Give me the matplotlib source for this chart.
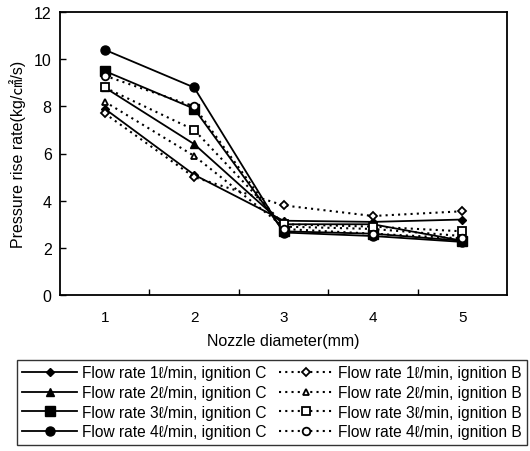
import matplotlib
matplotlib.use("Agg")
import matplotlib.pyplot as plt
from matplotlib.ticker import FixedLocator

plt.rcParams['font.family'] = ['Liberation Sans', 'DejaVu Sans', 'Noto Sans CJK JP']

nozzle = [1, 2, 3, 4, 5]
c1 = [7.9, 5.1, 3.15, 3.1, 3.2]
c2 = [8.8, 6.4, 3.0, 3.0, 2.3]
c3 = [9.5, 7.9, 2.7, 2.6, 2.3]
c4 = [10.4, 8.8, 2.65, 2.5, 2.25]
b1 = [7.7, 5.0, 3.8, 3.35, 3.55]
b2 = [8.2, 5.9, 2.9, 2.8, 2.5]
b3 = [8.8, 7.0, 3.0, 2.9, 2.7]
b4 = [9.3, 8.0, 2.8, 2.6, 2.4]

labels_c = ["Flow rate 1ℓ/min, ignition C", "Flow rate 2ℓ/min, ignition C",
            "Flow rate 3ℓ/min, ignition C", "Flow rate 4ℓ/min, ignition C"]
labels_b = ["Flow rate 1ℓ/min, ignition B", "Flow rate 2ℓ/min, ignition B",
            "Flow rate 3ℓ/min, ignition B", "Flow rate 4ℓ/min, ignition B"]

fig = plt.figure(figsize=(5.3, 4.52), dpi=100)
ax = fig.add_axes([60/530, 1-296/452, 447/530, 283/452])

markers = ['D', '^', 's', 'o']
msizes_c = [4.5, 5.5, 6.5, 6.5]
msizes_b = [4.5, 5, 5.5, 5.5]
handles = []
for ys, lab, m, ms in zip([c1, c2, c3, c4], labels_c, markers, msizes_c):
    h, = ax.plot(nozzle, ys, color='black', lw=1.3, marker=m, ms=ms,
                 mfc='black', mec='black', label=lab)
    handles.append(h)
for ys, lab, m, ms in zip([b1, b2, b3, b4], labels_b, markers, msizes_b):
    h, = ax.plot(nozzle, ys, color='black', lw=1.5, ls=(0, (1, 2)), marker=m, ms=ms,
                 mfc='white', mec='black', mew=1.3, label=lab)
    handles.append(h)

ax.set_xlim(0.5, 5.5)
ax.set_ylim(0, 12)
ax.set_yticks([0, 2, 4, 6, 8, 10, 12])
ax.xaxis.set_major_locator(FixedLocator([1.5, 2.5, 3.5, 4.5]))
ax.xaxis.set_major_formatter(plt.NullFormatter())
ax.xaxis.set_minor_locator(FixedLocator(nozzle))
ax.xaxis.set_minor_formatter(plt.FixedFormatter([str(v) for v in nozzle]))
ax.tick_params(axis='x', which='major', direction='in', length=4, width=1)
ax.tick_params(axis='x', which='minor', length=0, labelsize=11, pad=11)
ax.tick_params(axis='y', direction='in', length=4, width=1, labelsize=11.5, pad=6)
for s in ax.spines.values():
    s.set_linewidth(1.3)

ax.set_xlabel("Nozzle diameter(mm)", fontsize=11.5, labelpad=6)
ax.set_ylabel("Pressure rise rate(kg/㎠/s)", fontsize=11.5, labelpad=6)

leg = fig.legend(handles=handles, loc='upper left', bbox_to_anchor=(17/530, 1-361/452),
                 ncol=2, fontsize=11.2, frameon=True, fancybox=False, edgecolor='black',
                 handlelength=3.5, handletextpad=0.3, columnspacing=0.8,
                 labelspacing=0.3, borderpad=0.35, borderaxespad=0, numpoints=1)
leg.get_frame().set_linewidth(1.0)

fig.savefig("out.png", dpi=100)
